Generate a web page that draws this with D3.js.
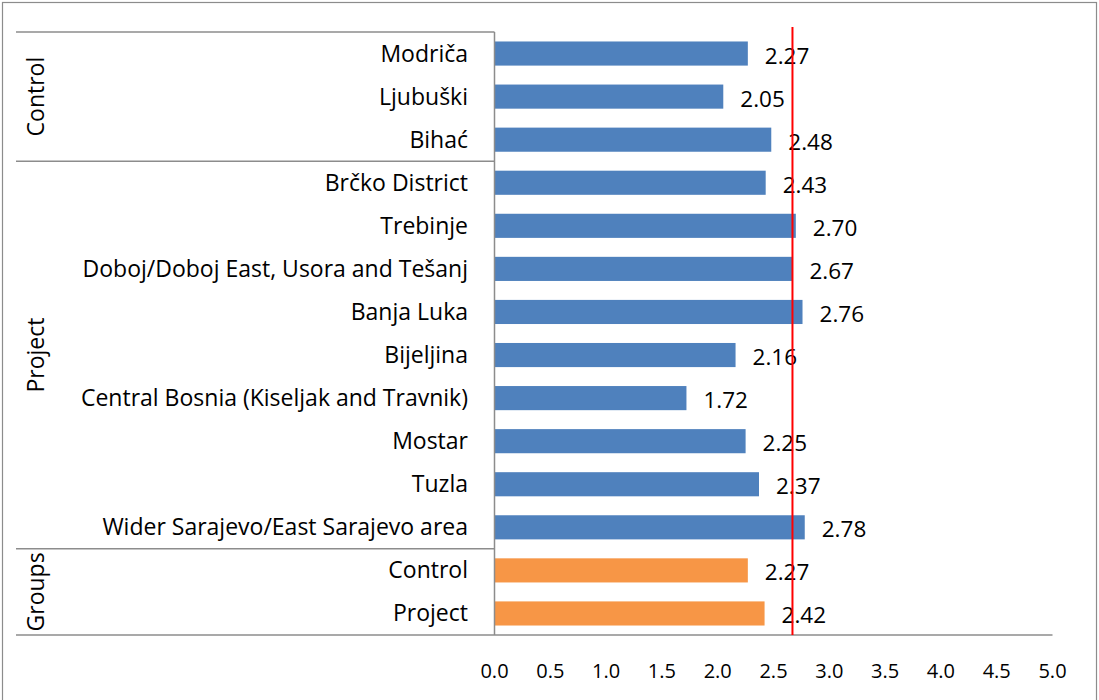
<!DOCTYPE html>
<html><head><meta charset="utf-8">
<script src="https://cdn.jsdelivr.net/npm/d3@7"></script>
<style>body{margin:0;background:#fff;} text{font-family:"Open Sans",sans-serif;}</style>
</head><body>
<svg id="c" width="1099" height="700"></svg>
<script>
const categories = ["Modriča","Ljubuški","Bihać","Brčko District","Trebinje","Doboj/Doboj East, Usora and Tešanj","Banja Luka","Bijeljina","Central Bosnia (Kiseljak and Travnik)","Mostar","Tuzla","Wider Sarajevo/East Sarajevo area","Control ","Project"];
const values = [2.27,2.05,2.48,2.43,2.70,2.67,2.76,2.16,1.72,2.25,2.37,2.78,2.27,2.42];
const seriesGroup = ["Control","Control","Control","Project","Project","Project","Project","Project","Project","Project","Project","Project","Groups","Groups"];
const groups = ["Control","Project","Groups"];
const xTicks = [0,0.5,1,1.5,2,2.5,3,3.5,4,4.5,5];
const referenceValue = 2.67;

const svg = d3.select("#c");
const L = 494.5, R = 1052.5, T = 32, B = 635;
const x = d3.scaleLinear().domain([0,5]).range([L,R]);
const y = d3.scaleBand().domain(d3.range(categories.length)).range([T,B]).paddingInner(0.44).paddingOuter(0.22);
const grey = "#8c8c8c";

// outer border
svg.append("rect").attr("x",2.5).attr("y",2.5).attr("width",1094).attr("height",700).attr("fill","none").attr("stroke",grey).attr("stroke-width",1.2);

// bars
svg.selectAll("rect.bar").data(values).enter().append("rect")
  .attr("x",x(0)).attr("y",(d,i)=>y(i)).attr("width",d=>x(d)-x(0)).attr("height",y.bandwidth())
  .attr("fill",(d,i)=>seriesGroup[i]==="Groups"?"#f79646":"#4f81bd");

// value labels
svg.selectAll("text.val").data(values).enter().append("text")
  .attr("x",d=>x(d)+17).attr("y",(d,i)=>y(i)+y.bandwidth()/2+10)
  .attr("font-size",22.5).attr("fill","#000").text(d=>d.toFixed(2));

// category labels
svg.selectAll("text.cat").data(categories).enter().append("text")
  .attr("x",468).attr("y",(d,i)=>y(i)+y.bandwidth()/2+8)
  .attr("text-anchor","end").attr("font-size",23).attr("fill","#000").text(d=>d);

// group table lines
const yb = i => T + i*((B-T)/categories.length);
let idx = 0;
const bounds = [0];
groups.forEach(g=>{ const n = seriesGroup.filter(s=>s===g).length; idx+=n; bounds.push(idx); });
bounds.forEach(b=>{
  svg.append("line").attr("x1",16).attr("x2",b===categories.length?R:L).attr("y1",yb(b)).attr("y2",yb(b)).attr("stroke",grey).attr("stroke-width",1.5);
});
groups.forEach((g,k)=>{
  const cy = (yb(bounds[k])+yb(bounds[k+1]))/2;
  svg.append("text").attr("transform",`translate(44,${cy}) rotate(-90)`).attr("text-anchor","middle")
    .attr("font-size",23).attr("fill","#000").text(g);
});
// vertical axis line
svg.append("line").attr("x1",L).attr("x2",L).attr("y1",T).attr("y2",B).attr("stroke",grey).attr("stroke-width",1.5);

// x axis tick labels
svg.selectAll("text.tick").data(xTicks).enter().append("text")
  .attr("x",d=>x(d)).attr("y",678).attr("text-anchor","middle").attr("font-size",20).attr("fill","#000")
  .text(d=>d.toFixed(1));

// reference line
svg.append("line").attr("x1",x(referenceValue)).attr("x2",x(referenceValue)).attr("y1",27).attr("y2",B).attr("stroke","#ff0000").attr("stroke-width",2);
</script>
</body></html>
